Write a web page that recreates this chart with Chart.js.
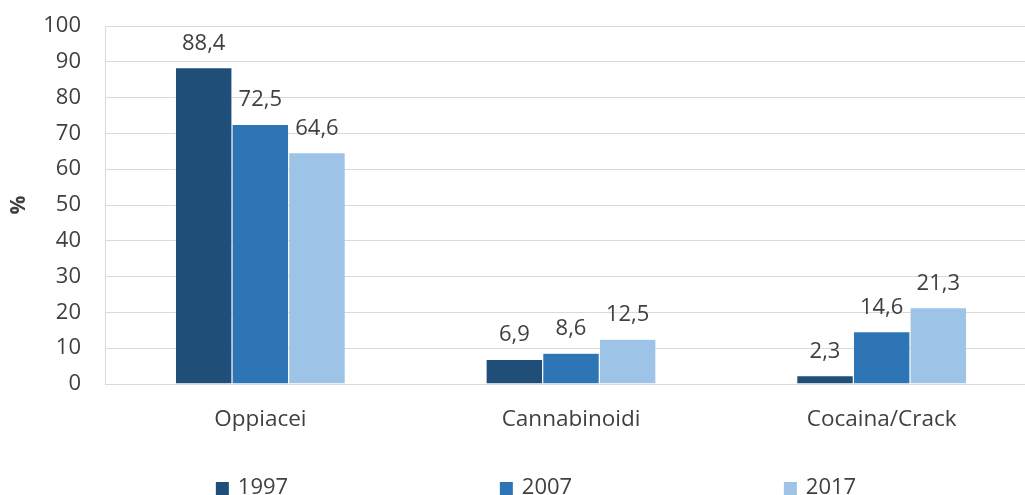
<!DOCTYPE html>
<html>
<head>
<meta charset="utf-8">
<title>Sostanze primarie</title>
<script src="https://cdn.jsdelivr.net/npm/chart.js"></script>
<style>
    body { margin: 0; padding: 0; background: #fff; }
    #wrap { position: relative; width: 1025px; height: 495px; }
</style>
</head>
<body>
<div id="wrap">
    <canvas id="myChart"></canvas>
</div>
<script>
    // categories and series
    var categories = ['Oppiacei', 'Cannabinoidi', 'Cocaina/Crack'];
    var years = ['1997', '2007', '2017'];
    var values1997 = [88.4, 6.9, 2.3];
    var values2007 = [72.5, 8.6, 14.6];
    var values2017 = [64.6, 12.5, 21.3];
    var yTicks = [0, 10, 20, 30, 40, 50, 60, 70, 80, 90, 100];

    var colors = ['#1F4E79', '#2E75B6', '#9DC3E6'];
    var textColor = '#404040';
    var fontFamily = "'Open Sans', sans-serif";

    // the original plot area runs a little past the right edge of the picture
    var extendRight = {
        id: 'extendRight',
        afterLayout: function(chart) {
            var extra = 12;
            chart.chartArea.right += extra;
            chart.chartArea.width += extra;
            var x = chart.scales.x;
            x.right += extra;
            x.width += extra;
            x.configure();
        }
    };

    // values above bars, with comma decimals
    var valueLabels = {
        id: 'valueLabels',
        afterDatasetsDraw: function(chart) {
            var ctx = chart.ctx;
            ctx.save();
            ctx.font = '22px ' + fontFamily;
            ctx.fillStyle = textColor;
            ctx.textAlign = 'center';
            ctx.textBaseline = 'alphabetic';
            chart.data.datasets.forEach(function(ds, i) {
                chart.getDatasetMeta(i).data.forEach(function(bar, j) {
                    var txt = ds.data[j].toFixed(1).replace('.', ',');
                    ctx.fillText(txt, bar.x, bar.y - 18);
                });
            });
            ctx.restore();
        }
    };

    // legend spread along the bottom like the original
    var bottomLegend = {
        id: 'bottomLegend',
        afterDraw: function(chart) {
            var ctx = chart.ctx;
            var centerX = 536, gap = 284, y = 488;
            ctx.save();
            ctx.font = '22px ' + fontFamily;
            ctx.textBaseline = 'middle';
            ctx.textAlign = 'left';
            chart.data.datasets.forEach(function(ds, i) {
                var txtW = ctx.measureText(ds.label).width;
                var itemW = 13 + 9 + txtW;
                var x = centerX + (i - 1) * gap - itemW / 2;
                ctx.fillStyle = ds.backgroundColor;
                ctx.fillRect(x, y - 6, 13, 13);
                ctx.fillStyle = textColor;
                ctx.fillText(ds.label, x + 22, y);
            });
            ctx.restore();
        }
    };

    var data = {
        labels: categories,
        datasets: [
            { label: years[0], data: values1997, backgroundColor: colors[0] },
            { label: years[1], data: values2007, backgroundColor: colors[1] },
            { label: years[2], data: values2017, backgroundColor: colors[2] }
        ]
    };
    data.datasets.forEach(function(ds) {
        ds.borderColor = 'rgba(255,255,255,0.35)';
        ds.borderWidth = 0.6;
        ds.categoryPercentage = 0.547;
        ds.barPercentage = 1.0;
    });

    var config = {
        type: 'bar',
        data: data,
        options: {
            responsive: false,
            animation: false,
            layout: { padding: { top: 26, right: 0, bottom: 48, left: 6 } },
            plugins: {
                legend: { display: false },
                tooltip: { enabled: false }
            },
            scales: {
                x: {
                    grid: { display: false },
                    border: { display: false },
                    ticks: {
                        color: textColor,
                        font: { family: fontFamily, size: 22.5 },
                        padding: 14
                    }
                },
                y: {
                    min: 0,
                    max: 100,
                    afterBuildTicks: function(axis) {
                        axis.ticks = yTicks.map(function(v) { return { value: v }; });
                    },
                    afterFit: function(axis) {
                        axis.width = 99;
                    },
                    grid: { color: '#D9D9D9', lineWidth: 1, drawTicks: true, tickLength: 24, tickColor: 'rgba(0,0,0,0)' },
                    border: { display: true, color: '#D9D9D9' },
                    ticks: {
                        color: textColor,
                        font: { family: fontFamily, size: 22 },
                        padding: 0
                    },
                    title: {
                        display: true,
                        text: '%',
                        color: textColor,
                        font: { family: fontFamily, size: 21, weight: 'bold' },
                        padding: { top: 0, bottom: 0 }
                    }
                }
            }
        },
        plugins: [extendRight, valueLabels, bottomLegend]
    };

    var canvas = document.getElementById('myChart');
    canvas.width = 1025;
    canvas.height = 495;
    new Chart(canvas, config);
</script>
</body>
</html>
